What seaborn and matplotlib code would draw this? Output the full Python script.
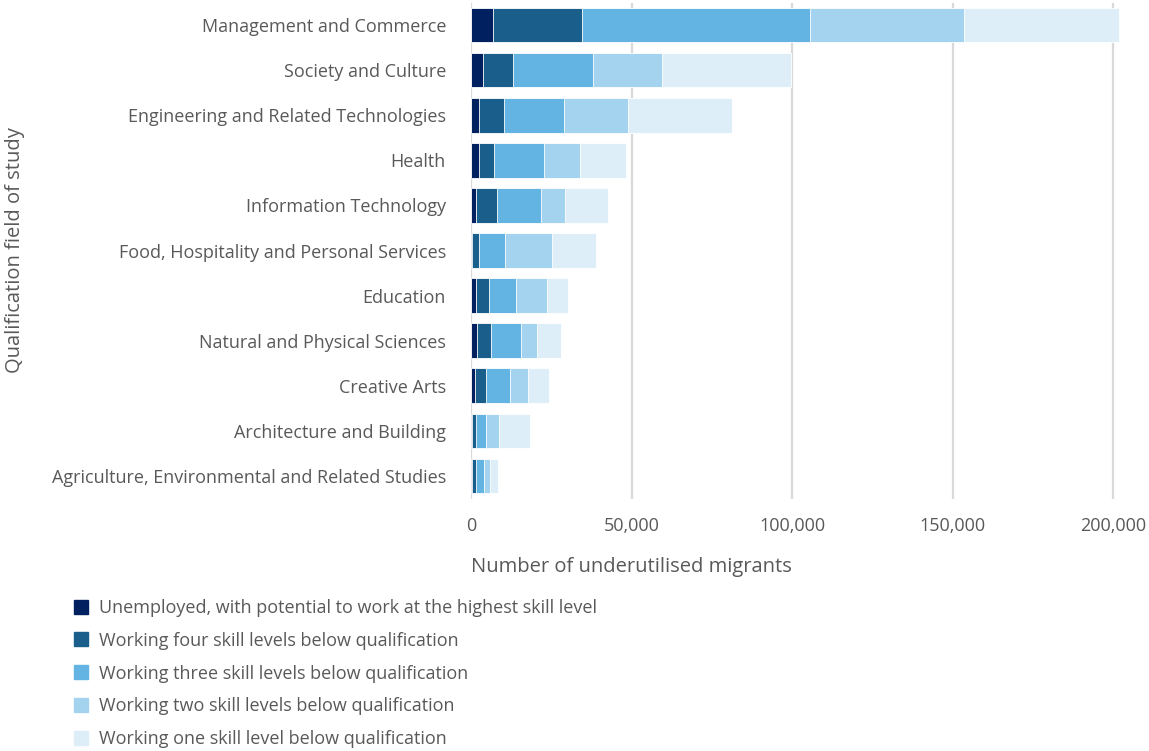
import numpy as np
import pandas as pd
import matplotlib
matplotlib.use("Agg")
import matplotlib.pyplot as plt
from matplotlib.lines import Line2D
import seaborn as sns

fields = [
    "Management and Commerce",
    "Society and Culture",
    "Engineering and Related Technologies",
    "Health",
    "Information Technology",
    "Food, Hospitality and Personal Services",
    "Education",
    "Natural and Physical Sciences",
    "Creative Arts",
    "Architecture and Building",
    "Agriculture, Environmental and Related Studies",
]

unemployed = [6900, 3650, 2450, 2600, 1650, 200, 1550, 1850, 1250, 400, 420]
four_below = [27650, 9350, 7850, 4550, 6550, 2300, 4050, 4500, 3450, 1250, 1050]
three_below = [71150, 25050, 18700, 15600, 13600, 8100, 8400, 9250, 7600, 3000, 2500]
two_below = [47950, 21300, 20050, 11350, 7400, 14550, 9700, 4900, 5500, 3950, 1950]
one_below = [48100, 40250, 32250, 14150, 13600, 13850, 6650, 7450, 6450, 9900, 2400]

series_names = [
    "Unemployed, with potential to work at the highest skill level",
    "Working four skill levels below qualification",
    "Working three skill levels below qualification",
    "Working two skill levels below qualification",
    "Working one skill level below qualification",
]
series_values = [unemployed, four_below, three_below, two_below, one_below]
colors = ["#002060", "#1a5f8b", "#63b4e3", "#a3d3ef", "#deeef9"]

x_ticks = [0, 50000, 100000, 150000, 200000]
x_ticklabels = ["0", "50,000", "100,000", "150,000", "200,000"]

text_color = "#595959"
sns.set_theme(style="white")
plt.rcParams["font.family"] = ["Open Sans", "DejaVu Sans"]

df = pd.DataFrame({"field": fields})
cum = np.zeros(len(fields))
cum_cols = []
for name, vals in zip(series_names, series_values):
    cum = cum + np.array(vals, dtype=float)
    df[name] = cum.copy()
    cum_cols.append(name)

W, H = 1149, 751
x0, x200k = 471, 1113
xmax = 202500
x_right = x0 + (x200k - x0) * xmax / 200000
fig = plt.figure(figsize=(W / 100, H / 100), dpi=100)
ax = fig.add_axes([x0 / W, 1 - 498.5 / H, (x_right - x0) / W, (498.5 - 2.5) / H])

ax.set_axisbelow(True)
ax.xaxis.grid(True, color="#d9d9d9", linewidth=1.6)
ax.yaxis.grid(False)

# stack by drawing cumulative totals from the outermost layer inwards
for name, color in reversed(list(zip(cum_cols, colors))):
    sns.barplot(data=df, y="field", x=name, order=fields, orient="h",
                color=color, saturation=1, width=0.77, ax=ax,
                edgecolor="white", linewidth=0.6)

ax.set_xlim(0, xmax)
ax.set_ylim(10.5, -0.5)
ax.set_xticks(x_ticks)
ax.set_xticklabels(x_ticklabels)
for s in ax.spines.values():
    s.set_visible(False)
ax.tick_params(axis="x", length=0, pad=13, labelsize=13, labelcolor=text_color)
ax.tick_params(axis="y", length=0, pad=18, labelsize=13, labelcolor=text_color)

ax.set_xlabel("Number of underutilised migrants", fontsize=14.5, color=text_color,
              loc="left", labelpad=16)
ax.set_ylabel("")
fig.text(15 / W, 1 - 250 / H, "Qualification field of study", rotation=90,
         ha="center", va="center", fontsize=14.5, color=text_color)

handles = [Line2D([0], [0], marker="s", linestyle="none", markersize=10,
                  markerfacecolor=c, markeredgecolor=c) for c in colors]
leg = fig.legend(handles, series_names, loc="upper left",
                 bbox_to_anchor=(74 / W, 1 - 599 / H), frameon=False,
                 fontsize=13, labelspacing=0.82, handlelength=0.8,
                 handletextpad=0.6, borderaxespad=0, borderpad=0)
for t in leg.get_texts():
    t.set_color(text_color)

fig.savefig("out.png", dpi=100)
